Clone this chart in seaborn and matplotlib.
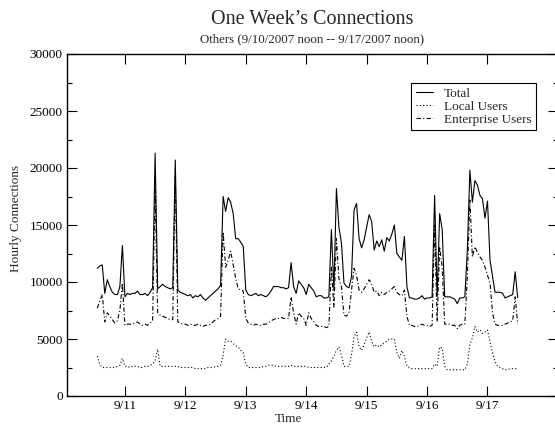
import numpy as np
import pandas as pd
import matplotlib
matplotlib.use("Agg")
import matplotlib.pyplot as plt
import seaborn as sns
from matplotlib.ticker import MultipleLocator

# hours after 9/10/2007 12:00 (1 .. 168)
hours = list(range(1, 169))

total_k = [
    11.2, 11.4, 11.5, 9.0, 10.2, 9.6, 9.1, 8.9, 8.9, 9.6, 13.2, 8.7, 9.0, 8.9, 9.0, 9.0, 9.2, 8.9, 8.9, 9.0, 8.8, 9.1, 9.5, 21.3,
    9.4, 9.6, 9.8, 9.6, 9.5, 9.4, 9.5, 20.7, 9.3, 9.1, 9.0, 8.9, 8.8, 8.9, 8.6, 8.8, 8.7, 8.9, 8.6, 8.4, 8.6, 8.8, 9.0, 9.2,
    9.4, 9.7, 17.5, 16.2, 17.4, 17.0, 16.0, 13.8, 13.8, 13.5, 13.1, 9.3, 8.9, 8.8, 8.9, 9.0, 8.8, 8.9, 8.8, 8.7, 8.9, 9.2, 9.6, 9.6,
    9.6, 9.5, 9.5, 9.4, 9.5, 11.7, 9.6, 9.0, 10.1, 9.8, 9.5, 8.9, 9.8, 9.5, 9.2, 8.7, 8.8, 8.8, 8.6, 8.6, 8.7, 14.6, 9.3, 18.2,
    14.8, 13.4, 9.9, 9.6, 9.5, 10.5, 16.3, 16.9, 13.8, 13.0, 13.7, 14.8, 15.9, 15.3, 12.8, 13.6, 13.1, 13.7, 12.7, 13.9, 13.6, 14.2, 15.0, 12.5,
    12.2, 11.9, 14.0, 9.6, 8.6, 8.6, 8.5, 8.5, 8.6, 8.8, 8.5, 8.6, 8.6, 8.7, 17.6, 8.7, 16.0, 14.6, 8.7, 8.7, 8.7, 8.6, 8.5, 8.1,
    8.6, 8.6, 8.7, 12.8, 19.8, 17.0, 18.9, 18.5, 17.6, 17.3, 15.6, 17.1, 11.9, 10.5, 9.1, 9.1, 9.1, 9.0, 8.6, 8.7, 8.8, 8.9, 10.9, 8.6,
]

local_k = [
    3.5, 2.8, 2.5, 2.5, 2.5, 2.5, 2.5, 2.5, 2.6, 2.7, 3.3, 2.6, 2.6, 2.5, 2.6, 2.6, 2.6, 2.5, 2.5, 2.6, 2.6, 2.7, 2.8, 3.1,
    4.1, 2.6, 2.6, 2.6, 2.6, 2.6, 2.6, 2.6, 2.6, 2.5, 2.5, 2.5, 2.5, 2.5, 2.5, 2.4, 2.4, 2.4, 2.4, 2.4, 2.5, 2.5, 2.5, 2.6,
    2.6, 2.7, 3.6, 5.0, 4.8, 4.8, 4.6, 4.4, 4.3, 4.0, 3.8, 2.8, 2.5, 2.5, 2.5, 2.5, 2.5, 2.5, 2.6, 2.6, 2.7, 2.7, 2.7, 2.6,
    2.6, 2.6, 2.6, 2.6, 2.6, 2.7, 2.6, 2.6, 2.6, 2.6, 2.6, 2.6, 2.5, 2.5, 2.5, 2.5, 2.5, 2.5, 2.5, 2.5, 2.8, 3.1, 3.5, 4.0,
    4.3, 3.6, 2.6, 2.6, 2.6, 3.6, 5.2, 5.6, 4.3, 4.0, 4.5, 5.1, 5.6, 4.8, 4.3, 4.5, 4.3, 4.5, 4.7, 4.8, 5.0, 5.0, 5.0, 3.8,
    3.3, 4.0, 3.5, 2.6, 2.5, 2.4, 2.4, 2.4, 2.4, 2.4, 2.4, 2.4, 2.4, 2.4, 2.8, 2.6, 4.3, 4.2, 2.6, 2.3, 2.3, 2.3, 2.3, 2.3,
    2.3, 2.3, 2.3, 2.8, 4.5, 5.1, 6.1, 5.6, 5.8, 5.5, 5.6, 5.8, 4.7, 3.8, 3.0, 2.6, 2.5, 2.4, 2.3, 2.3, 2.4, 2.4, 2.4, 2.4,
]

enterprise_k = [
    7.7, 8.3, 8.9, 6.5, 7.3, 7.0, 6.7, 6.4, 6.6, 7.5, 9.9, 6.2, 6.3, 6.3, 6.3, 6.4, 6.5, 6.3, 6.2, 6.3, 6.2, 6.4, 6.6, 18.1,
    7.3, 7.1, 7.0, 6.9, 6.8, 6.7, 6.7, 19.4, 6.5, 6.4, 6.3, 6.3, 6.2, 6.3, 6.2, 6.2, 6.3, 6.2, 6.1, 6.2, 6.2, 6.3, 6.5, 6.7,
    6.8, 7.0, 14.4, 11.3, 11.9, 12.7, 11.5, 10.3, 9.4, 9.3, 9.2, 6.8, 6.4, 6.3, 6.2, 6.3, 6.2, 6.2, 6.3, 6.3, 6.4, 6.6, 6.7, 6.8,
    6.8, 6.9, 6.8, 6.8, 6.8, 8.7, 7.3, 6.3, 7.3, 7.0, 6.8, 6.2, 7.3, 6.8, 6.5, 6.2, 6.1, 6.1, 6.1, 6.0, 6.1, 11.3, 7.8, 13.8,
    10.3, 9.6, 7.1, 7.0, 7.3, 9.3, 11.2, 10.6, 9.3, 9.1, 9.4, 9.8, 10.2, 9.8, 9.1, 9.2, 8.8, 9.1, 8.9, 9.1, 9.2, 9.4, 9.6, 9.1,
    8.9, 8.8, 9.3, 7.0, 6.2, 6.2, 6.1, 6.1, 6.2, 6.3, 6.2, 6.2, 6.1, 6.2, 15.0, 6.5, 13.1, 11.3, 6.3, 6.3, 6.3, 6.2, 6.2, 5.9,
    6.2, 6.3, 6.3, 10.5, 17.2, 12.2, 13.1, 12.6, 12.2, 11.9, 11.3, 10.6, 9.9, 7.3, 6.3, 6.2, 6.2, 6.2, 6.3, 6.4, 6.5, 6.6, 8.7, 6.3,
]

day_ticks = [12, 36, 60, 84, 108, 132, 156]
day_labels = ["9/11", "9/12", "9/13", "9/14", "9/15", "9/16", "9/17"]

df = pd.DataFrame({
    "hour": hours,
    "Total": np.array(total_k) * 1000,
    "Local Users": np.array(local_k) * 1000,
    "Enterprise Users": np.array(enterprise_k) * 1000,
})

sns.set_style("ticks")
plt.rcParams["font.family"] = ["Liberation Serif", "DejaVu Serif"]

fig = plt.figure(figsize=(5.55, 4.28), dpi=100)
ax = fig.add_axes([67 / 555, 32 / 428, 491 / 555, 342 / 428])

sns.lineplot(data=df, x="hour", y="Total", ax=ax, color="black", lw=0.8,
             linestyle="-", label="Total")
sns.lineplot(data=df, x="hour", y="Local Users", ax=ax, color="black", lw=0.8,
             linestyle=(0, (1, 2)), label="Local Users")
sns.lineplot(data=df, x="hour", y="Enterprise Users", ax=ax, color="black", lw=0.8,
             linestyle=(0, (4, 2, 1, 2)), label="Enterprise Users")

ax.set_xlim(-11, 184)
ax.set_ylim(0, 30000)
ax.set_xticks(day_ticks)
ax.set_xticklabels(day_labels)
ax.yaxis.set_major_locator(MultipleLocator(5000))
ax.yaxis.set_minor_locator(MultipleLocator(2500))
ax.tick_params(axis="both", which="both", direction="in", top=True, right=True,
               labelsize=9.5, colors="black", width=0.8)
ax.tick_params(which="major", length=7)
ax.tick_params(which="minor", length=3.5)
ax.tick_params(axis="x", pad=3)
ax.tick_params(axis="y", pad=3)
for s in ax.spines.values():
    s.set_color("black")
    s.set_linewidth(1.0)

ax.set_xlabel("Time", fontsize=9.5)
ax.set_ylabel("Hourly Connections", fontsize=9.5)
ax.xaxis.set_label_coords(0.452, -0.050)
ax.yaxis.set_label_coords(-0.092, 0.518)

fig.text(312 / 555, 1 - 20 / 428, "One Week\u2019s Connections", ha="center", va="center", fontsize=14.5)
fig.text(312 / 555, 1 - 39 / 428, "Others (9/10/2007 noon -- 9/17/2007 noon)", ha="center",
         va="center", fontsize=9.3)

leg = ax.legend(loc="upper right", bbox_to_anchor=(0.955, 0.915), fontsize=9.5,
                frameon=True, fancybox=False, edgecolor="black", framealpha=1,
                handlelength=1.3, handletextpad=0.8, borderpad=0.35, labelspacing=0.05,
                borderaxespad=0)
leg.get_frame().set_linewidth(0.8)

fig.savefig("out.png", dpi=100)
